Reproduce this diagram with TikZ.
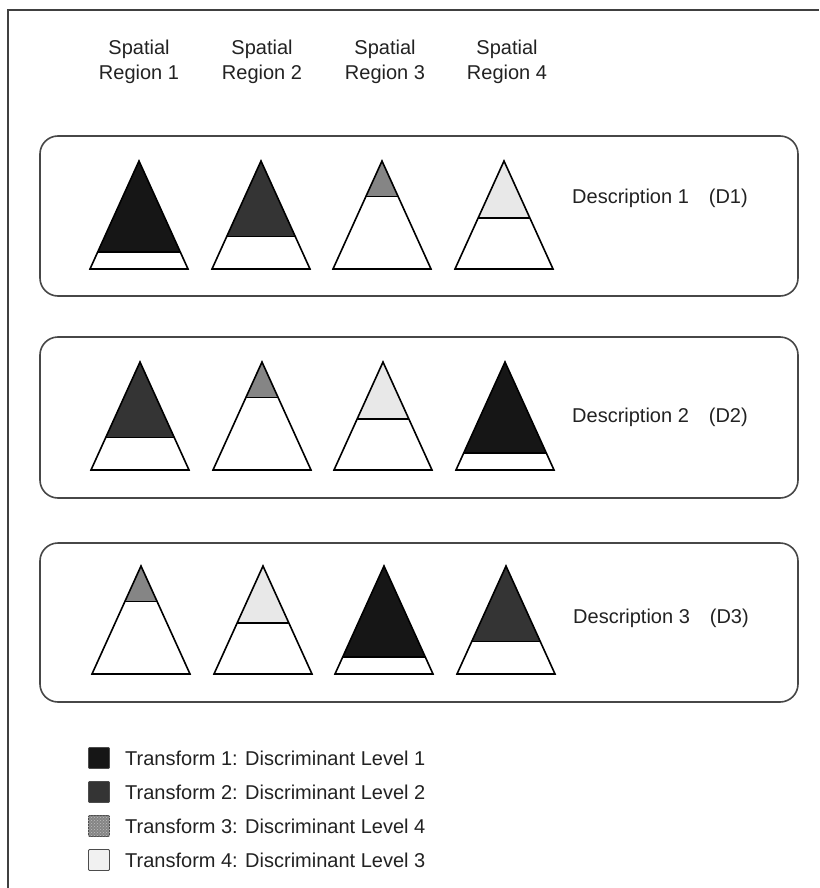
\documentclass[tikz,border=0pt]{standalone}
\usepackage{fontspec}
\setmainfont{Liberation Sans}
\usetikzlibrary{calc,patterns}
\definecolor{lvlA}{HTML}{161616}
\definecolor{lvlB}{HTML}{343434}
\definecolor{lvlC}{HTML}{858585}
\definecolor{lvlD}{HTML}{E8E8E8}
\definecolor{ink}{HTML}{222222}
\newcommand\pyr[5]{%
  \coordinate (#5-a) at (#1,#2);
  \coordinate (#5-l) at ({#1-49},{#2+108});
  \coordinate (#5-r) at ({#1+49},{#2+108});
  \coordinate (#5-ml) at ($(#5-a)!#3!(#5-l)$);
  \coordinate (#5-mr) at ($(#5-a)!#3!(#5-r)$);
  \fill[#4] (#5-a) -- (#5-ml) -- (#5-mr) -- cycle;
  \draw[tri] (#5-ml) -- (#5-mr);
  \draw[tri] (#5-a) -- (#5-l) -- (#5-r) -- cycle;
}
\begin{document}
\begin{tikzpicture}[x=1pt,y=-1pt,
  frame/.style={draw=black!75, line width=1.3pt},
  descbox/.style={draw=black!72, line width=1.6pt, rounded corners=18pt},
  tri/.style={draw=black, line width=1.6pt, line join=miter},
  lbl/.style={font=\fontsize{20}{25}\selectfont, text=ink, inner sep=0pt},
  sq/.style={draw=black!70, line width=0.8pt, minimum size=21pt, inner sep=0pt, rounded corners=1pt}]
\useasboundingbox (0,0) rectangle (819,888);
\fill[white] (0,0) rectangle (819,888);
% outer frame
\draw[frame] (8,888) -- (8,10) -- (819,10);
% headers
\node[lbl, align=center] (h1) at (139,62) {Spatial\\Region 1};
\node[lbl, align=center] (h2) at (262,62) {Spatial\\Region 2};
\node[lbl, align=center] (h3) at (385,62) {Spatial\\Region 3};
\node[lbl, align=center] (h4) at (507,62) {Spatial\\Region 4};
% description boxes
\draw[descbox] (40,136) rectangle (798,296);
\draw[descbox] (40,337) rectangle (798,498);
\draw[descbox] (40,543) rectangle (798,702);
% row 1
\pyr{139}{161}{0.845}{lvlA}{r1a}
\pyr{261}{161}{0.70}{lvlB}{r1b}
\pyr{382}{161}{0.33}{lvlC}{r1c}
\pyr{504}{161}{0.525}{lvlD}{r1d}
\node[lbl, anchor=west] (d1) at (572,198) {Description 1\hspace{20pt}(D1)};
% row 2
\pyr{140}{362}{0.70}{lvlB}{r2a}
\pyr{262}{362}{0.33}{lvlC}{r2b}
\pyr{383}{362}{0.525}{lvlD}{r2c}
\pyr{505}{362}{0.845}{lvlA}{r2d}
\node[lbl, anchor=west] (d2) at (572,417) {Description 2\hspace{20pt}(D2)};
% row 3
\pyr{141}{566}{0.33}{lvlC}{r3a}
\pyr{263}{566}{0.525}{lvlD}{r3b}
\pyr{384}{566}{0.845}{lvlA}{r3c}
\pyr{506}{566}{0.70}{lvlB}{r3d}
\node[lbl, anchor=west] (d3) at (573,618) {Description 3\hspace{20pt}(D3)};
% legend
\node[sq, fill=lvlA] (s1) at (99,758) {};
\node[sq, fill=lvlB] (s2) at (99,792) {};
\node[sq, fill=lvlC] (s3) at (99,826) {};
\fill[pattern=crosshatch dots, pattern color=black!25] (s3.south west) rectangle (s3.north east);
\node[sq, fill=lvlD!60!white] (s4) at (99,860) {};
\node[lbl, anchor=west] (t1) at (125,758) {Transform 1: Discriminant Level 1};
\node[lbl, anchor=west] (t2) at (125,792) {Transform 2: Discriminant Level 2};
\node[lbl, anchor=west] (t3) at (125,826) {Transform 3: Discriminant Level 4};
\node[lbl, anchor=west] (t4) at (125,860) {Transform 4: Discriminant Level 3};
\end{tikzpicture}
\end{document}
